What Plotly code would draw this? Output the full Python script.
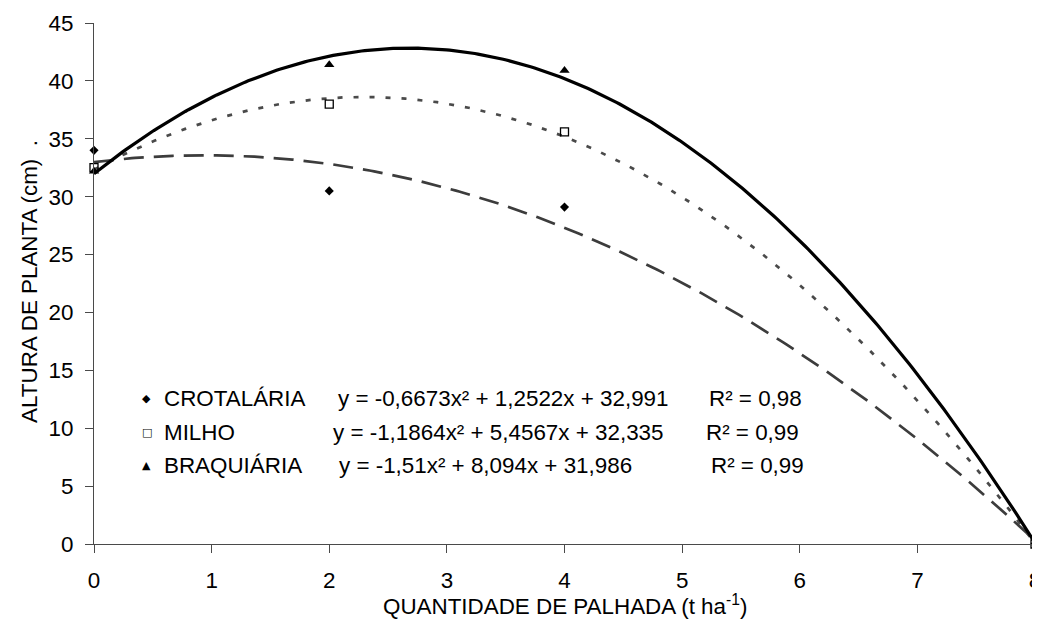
import numpy as np
import plotly.graph_objects as go

# ---- data ----
x_doses = [0, 2, 4, 8]
crotalaria = [34.0, 30.5, 29.1, 0.0]
milho = [32.5, 38.0, 35.6, 0.0]
braquiaria = [32.2, 41.4, 40.9, 0.1]

# trendline coefficients printed on the chart (a, b, c for a*x^2 + b*x + c)
coef_crotalaria = [-0.6673, 1.2522, 32.991]
coef_milho = [-1.1864, 5.4567, 32.335]
coef_braquiaria = [-1.51, 8.094, 31.986]

names = ["CROTALÁRIA", "MILHO", "BRAQUIÁRIA"]
equations = ["y = -0,6673x² + 1,2522x + 32,991",
             "y = -1,1864x² + 5,4567x + 32,335",
             "y = -1,51x² + 8,094x + 31,986"]
r2_labels = ["R² = 0,98", "R² = 0,99", "R² = 0,99"]
legend_symbols = ["◆", "□", "▲"]

x_ticks = [0, 1, 2, 3, 4, 5, 6, 7, 8]
y_ticks = [0, 5, 10, 15, 20, 25, 30, 35, 40, 45]

FONT = "Liberation Sans, Arial, sans-serif"
FS = 22.4
AXIS_COLOR = "#4a4a4a"

xs = np.linspace(0, 8, 300)
def poly(c):
    return c[0] * xs ** 2 + c[1] * xs + c[2]

fig = go.Figure()

# trendlines
fig.add_trace(go.Scatter(x=xs, y=poly(coef_crotalaria), mode="lines",
                         line=dict(color="#3c3c3c", width=2.7, dash="20px,10px"),
                         showlegend=False, hoverinfo="skip"))
fig.add_trace(go.Scatter(x=xs, y=poly(coef_milho), mode="lines",
                         line=dict(color="#4a4a4a", width=2.7, dash="5px,11px"),
                         showlegend=False, hoverinfo="skip"))
fig.add_trace(go.Scatter(x=xs, y=poly(coef_braquiaria), mode="lines",
                         line=dict(color="#000000", width=3.2),
                         showlegend=False, hoverinfo="skip"))

# data points
fig.add_trace(go.Scatter(x=x_doses, y=crotalaria, mode="markers", name=names[0],
                         marker=dict(symbol="diamond", size=7, color="black"),
                         cliponaxis=False, showlegend=False))
fig.add_trace(go.Scatter(x=x_doses, y=milho, mode="markers", name=names[1],
                         marker=dict(symbol="square-open", size=8, color="black",
                                     line=dict(width=1.3, color="black")),
                         cliponaxis=False, showlegend=False))
fig.add_trace(go.Scatter(x=x_doses, y=braquiaria, mode="markers", name=names[2],
                         marker=dict(symbol="triangle-up", size=9, color="black"),
                         cliponaxis=False, showlegend=False))

# legend block as text
row_y = [12.61, 9.67, 6.82]
sym_x = 0.45
name_x = 0.58
eq_x = [2.06, 2.018, 2.068]
r2_x = [5.21, 5.184, 5.225]
for i in range(3):
    fig.add_annotation(x=sym_x, y=row_y[i], xref="x", yref="y", xanchor="center",
                       yanchor="middle", showarrow=False, text=legend_symbols[i],
                       font=dict(family="DejaVu Sans", size=11, color="black"))
    fig.add_annotation(x=name_x, y=row_y[i], xref="x", yref="y", xanchor="left",
                       yanchor="middle", showarrow=False, text=names[i],
                       font=dict(family=FONT, size=FS, color="black"))
    fig.add_annotation(x=eq_x[i], y=row_y[i], xref="x", yref="y", xanchor="left",
                       yanchor="middle", showarrow=False, text=equations[i],
                       font=dict(family=FONT, size=FS, color="black"))
    fig.add_annotation(x=r2_x[i], y=row_y[i], xref="x", yref="y", xanchor="left",
                       yanchor="middle", showarrow=False, text=r2_labels[i],
                       font=dict(family=FONT, size=FS, color="black"))

# axis titles
fig.add_annotation(x=0, xref="paper", xshift=-64, y=0.503, yref="paper",
                   xanchor="center", yanchor="middle", textangle=-90, showarrow=False,
                   text="ALTURA DE PLANTA (cm)\u00a0\u00a0.",
                   font=dict(family=FONT, size=FS, color="black"))
fig.add_annotation(x=0.5, xref="paper", y=-0.117, yref="paper",
                   xanchor="center", yanchor="middle", showarrow=False,
                   text="QUANTIDADE DE PALHADA (t ha<sup>-1</sup>)",
                   font=dict(family=FONT, size=FS, color="black"))

fig.update_layout(
    width=1040, height=620,
    margin=dict(l=86, r=13, t=15, b=84, autoexpand=False),
    paper_bgcolor="white", plot_bgcolor="white",
    font=dict(family=FONT, size=FS, color="black"),
    xaxis=dict(range=[0, 8], tickvals=x_ticks, ticks="outside", ticklen=8,
               tickcolor=AXIS_COLOR, tickwidth=1.2, showline=True,
               linecolor=AXIS_COLOR, linewidth=1.2,
               showgrid=False, zeroline=False, automargin=False,
               ticklabelstandoff=8, tickfont=dict(size=FS)),
    yaxis=dict(range=[0, 45], tickvals=y_ticks, ticks="outside", ticklen=8,
               tickcolor=AXIS_COLOR, tickwidth=1.2, showline=True,
               linecolor=AXIS_COLOR, linewidth=1.2,
               showgrid=False, zeroline=False, automargin=False,
               ticklabelstandoff=7, tickfont=dict(size=FS)),
)

fig.write_html("out.html")
